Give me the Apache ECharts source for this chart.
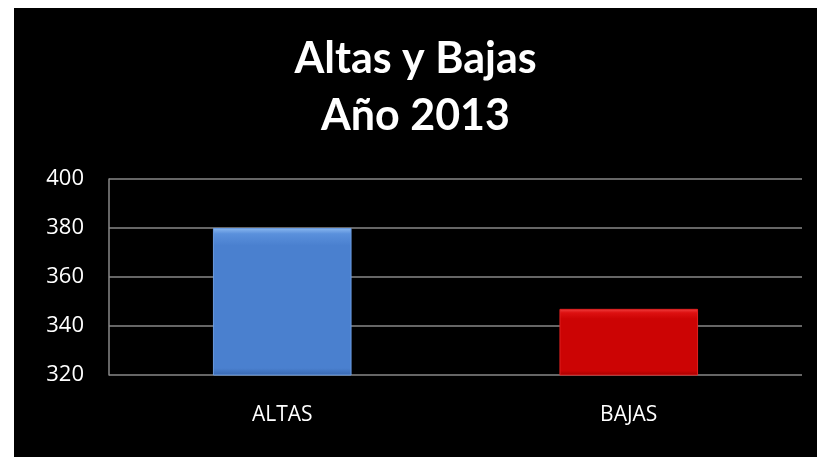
<!DOCTYPE html>
<html><head><meta charset="utf-8">
<script src="https://cdn.jsdelivr.net/npm/echarts@6/dist/echarts.min.js"></script>
<style>
html,body{margin:0;padding:0;background:#fff;width:817px;height:457px;overflow:hidden}
#c{position:absolute;left:14px;top:8px;width:803px;height:449px;background:#000}
</style></head>
<body><div id="c"></div>
<script>
const categories = ['ALTAS', 'BAJAS'];
const values = [380, 347];
const barColors = ['#4a80cf', '#cc0404'];
const yTicks = [320, 340, 360, 380, 400];
const titleLines = ['Altas y Bajas', 'Año 2013'];

const grads = [
  new echarts.graphic.LinearGradient(0,0,0,1,[{offset:0,color:'#8ab8f0'},{offset:0.04,color:'#5a90dc'},{offset:0.12,color:'#4a80cf'},{offset:0.95,color:'#4a80cf'},{offset:1,color:'#3868b0'}]),
  new echarts.graphic.LinearGradient(0,0,0,1,[{offset:0,color:'#f04040'},{offset:0.06,color:'#dd1010'},{offset:0.15,color:'#cc0404'},{offset:0.93,color:'#cc0404'},{offset:1,color:'#a00000'}])
];

const chart = echarts.init(document.getElementById('c'), null, {renderer:'canvas'});
chart.setOption({
  backgroundColor:'#000',
  animation:false,
  title:{
    text: titleLines.join('\n'),
    left:'center', top:18,
    textStyle:{color:'#fff', fontFamily:'Lato', fontWeight:'bold', fontSize:43, lineHeight:57}
  },
  grid:{left:95, right:15, top:171, bottom:82},
  xAxis:{
    type:'category', data:categories,
    axisLine:{show:false}, axisTick:{show:false},
    axisLabel:{color:'#fff', fontFamily:'Open Sans', fontSize:21, margin:30}
  },
  yAxis:{
    type:'value', min:yTicks[0], max:yTicks[yTicks.length-1], interval:20,
    axisLine:{show:true, lineStyle:{color:'#888', width:1.5}},
    axisTick:{show:false},
    splitLine:{lineStyle:{color:'#888', width:1.5}},
    axisLabel:{color:'#fff', fontFamily:'Open Sans', fontSize:22, margin:25}
  },
  series:[{
    type:'bar', barWidth:'40%',
    data: values.map((v,i)=>({value:v, itemStyle:{color:grads[i], borderColor: i?'#e02020':'#6a9be0', borderWidth:1}}))
  }]
});
</script></body></html>
